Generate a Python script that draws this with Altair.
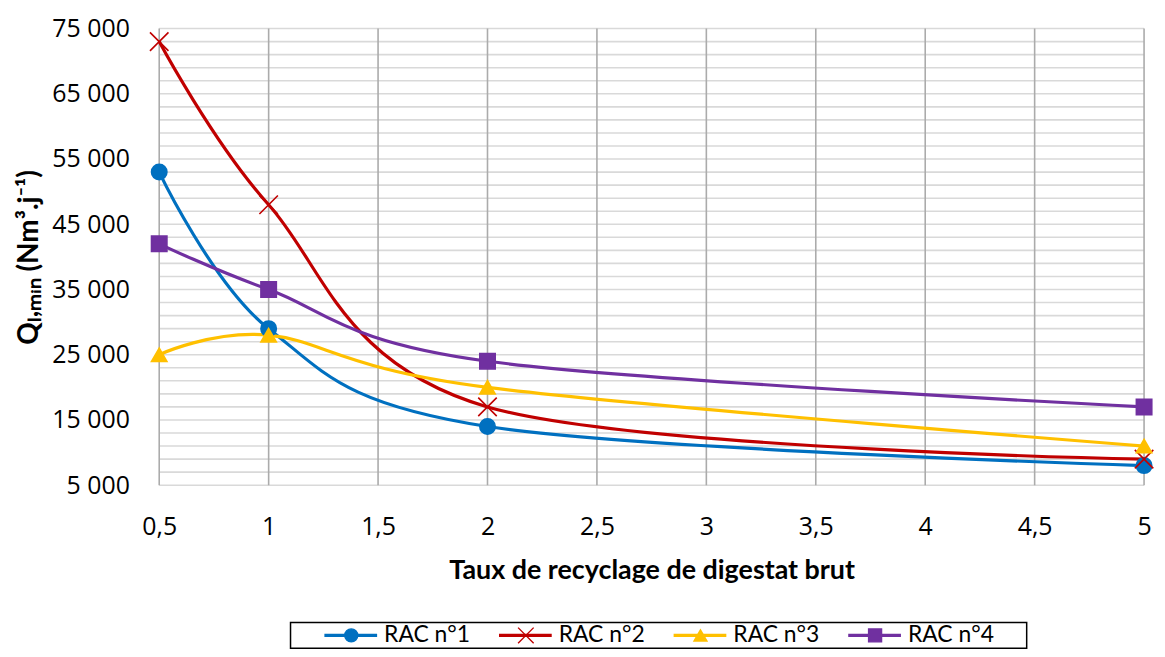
import altair as alt
import pandas as pd

# ---- data ----
series = ["RAC n°1", "RAC n°2", "RAC n°3", "RAC n°4"]
x_vals = [0.5, 1, 2, 5]
rac1 = [53000, 29000, 14000, 8000]
rac2 = [73000, 48000, 17000, 9000]
rac3 = [25000, 28000, 20000, 11000]
rac4 = [42000, 35000, 24000, 17000]
x_ticks = [0.5, 1, 1.5, 2, 2.5, 3, 3.5, 4, 4.5, 5]
y_ticks = [5000, 15000, 25000, 35000, 45000, 55000, 65000, 75000]
y_grid = list(range(5000, 75001, 2000))

colors = ["#0070C0", "#C00000", "#FFC000", "#7030A0"]
shapes = ["circle", "M-1.2,-1.2L1.2,1.2M-1.2,1.2L1.2,-1.2", "triangle-up", "square"]

rows = []
for name, vals in zip(series, [rac1, rac2, rac3, rac4]):
    for xv, yv in zip(x_vals, vals):
        rows.append({"series": name, "x": xv, "y": yv})
df = pd.DataFrame(rows)
hgrid_df = pd.DataFrame({"gy": y_grid})
vgrid_df = pd.DataFrame({"gx": x_ticks})

TICK_FONT = "Open Sans"
TITLE_FONT = "Lato"

color_scale = alt.Scale(domain=series, range=colors)
shape_scale = alt.Scale(domain=series, range=shapes)
x_scale = alt.Scale(domain=[0.5, 5], nice=False, zero=False)
y_scale = alt.Scale(domain=[5000, 75000], nice=False, zero=False)

x_axis = alt.Axis(
    values=x_ticks,
    labelExpr="replace(format(datum.value, '~g'), '.', ',')",
    labelOverlap=False,
    labelFlush=False,
    title="Taux de recyclage de digestat brut",
    titleFont=TITLE_FONT,
    titleFontSize=27,
    titleFontWeight="bold",
    titleColor="#000000",
    titlePadding=18,
    labelFont=TICK_FONT,
    labelFontSize=25,
    labelColor="#000000",
    labelPadding=30,
    ticks=False,
    domain=False,
    grid=False,
)
y_axis = alt.Axis(
    values=y_ticks,
    labelExpr="replace(format(datum.value, ','), ',', ' ')",
    labelOverlap=False,
    labelFlush=False,
    title="Qₗ,ₘᵢₙ (Nm³.j⁻¹)",
    titleFont=TITLE_FONT,
    titleFontSize=28,
    titleFontWeight="bold",
    titleColor="#000000",
    titlePadding=8,
    labelFont=TICK_FONT,
    labelFontSize=25,
    labelColor="#000000",
    labelPadding=30,
    ticks=False,
    domain=False,
    grid=False,
)

hgrid = alt.Chart(hgrid_df).mark_rule(color="#D9D9D9", strokeWidth=1.6).encode(
    y=alt.Y("gy:Q", scale=y_scale, axis=y_axis)
)
vgrid = alt.Chart(vgrid_df).mark_rule(color="#ABABAB", strokeWidth=1.6).encode(
    x=alt.X("gx:Q", scale=x_scale, axis=x_axis)
)

base = alt.Chart(df)
lines = base.mark_line(interpolate="cardinal", strokeWidth=3.2).encode(
    x=alt.X("x:Q", scale=x_scale, axis=x_axis),
    y=alt.Y("y:Q", scale=y_scale, axis=y_axis),
    color=alt.Color("series:N", scale=color_scale, legend=None),
    detail="series:N",
)
points = base.mark_point(filled=True, opacity=1, size=240, strokeWidth=1.6).encode(
    x=alt.X("x:Q", scale=x_scale, axis=x_axis),
    y=alt.Y("y:Q", scale=y_scale, axis=y_axis),
    color=alt.Color("series:N", scale=color_scale, legend=None),
    stroke=alt.Stroke("series:N", scale=color_scale, legend=None),
    shape=alt.Shape("series:N", scale=shape_scale, legend=None),
)

main = alt.layer(hgrid, vgrid, lines, points).properties(
    width=990, height=459, view=alt.ViewBackground(stroke="transparent")
)

# ---- legend drawn as a small chart of its own ----
leg_df = pd.DataFrame({"series": series, "row": ["a"] * len(series)})
lx = alt.X(
    "series:N",
    scale=alt.Scale(type="point", domain=series, padding=0.608, align=0.286),
    axis=None,
)
ly = alt.Y("row:N", axis=None)
leg_base = alt.Chart(leg_df)
leg_rule = leg_base.mark_rule(strokeWidth=3.2, xOffset=-27, x2Offset=26).encode(
    x=lx, x2=alt.X2("series"), y=ly,
    color=alt.Color("series:N", scale=color_scale, legend=None),
)
leg_pts = leg_base.mark_point(filled=True, opacity=1, size=170, strokeWidth=1.4).encode(
    x=lx, y=ly,
    color=alt.Color("series:N", scale=color_scale, legend=None),
    stroke=alt.Stroke("series:N", scale=color_scale, legend=None),
    shape=alt.Shape("series:N", scale=shape_scale, legend=None),
)
leg_txt = leg_base.mark_text(
    align="left", baseline="middle", dx=33, fontSize=23, font=TITLE_FONT, color="#000000"
).encode(x=lx, y=ly, text="series:N")
legend = alt.layer(leg_rule, leg_pts, leg_txt).properties(
    width=740, height=26, view=alt.ViewBackground(stroke="#000000", strokeWidth=1.5)
)
spacer = alt.Chart(leg_df).mark_point(opacity=0).properties(
    width=110, height=26, view=alt.ViewBackground(stroke="transparent")
)
legend_row = alt.hconcat(spacer, legend, spacing=20)

chart = (
    alt.vconcat(main, legend_row, spacing=37)
    .properties(padding={"left": 7, "top": 6, "right": 0, "bottom": 0})
    .configure(font=TITLE_FONT)
)

chart.save("out.html", embed_options={"renderer": "svg", "actions": False})
